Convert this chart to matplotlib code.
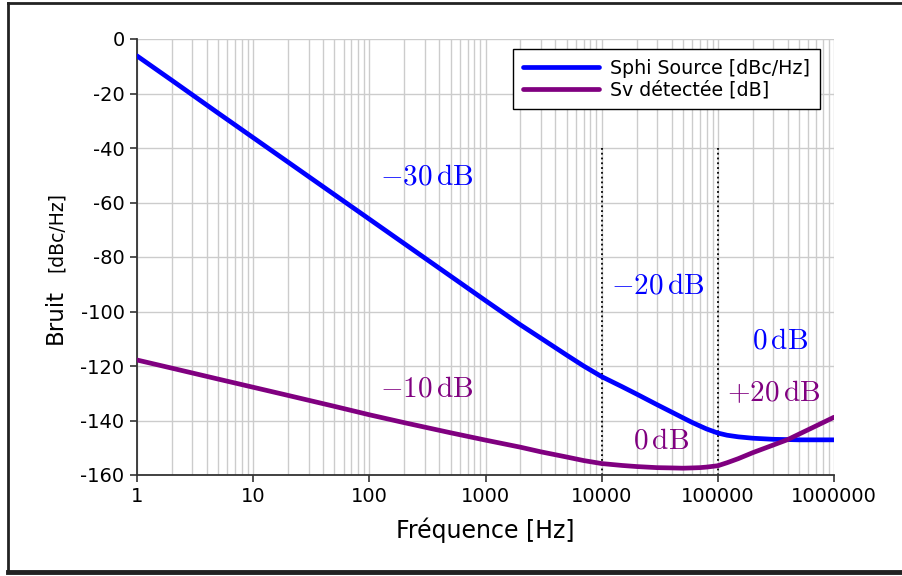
import numpy as np
import matplotlib
matplotlib.use("Agg")
import matplotlib.pyplot as plt
from matplotlib.lines import Line2D
from matplotlib.ticker import FixedLocator, NullFormatter

plt.rcParams["mathtext.fontset"] = "cm"

# values
freq = [1, 2, 5, 10, 20, 50, 100, 200, 500, 1e3, 2e3, 3e3, 5e3, 7e3, 1e4,
        1.5e4, 2e4, 3e4, 4e4, 5e4, 6e4, 7e4, 8e4, 1e5, 1.2e5, 1.5e5, 2e5,
        3e5, 4e5, 5e5, 7e5, 1e6]
sphi_source = [-6.2, -15.2, -27.2, -36.2, -45.2, -57.1, -66.1, -75.1, -87.0,
               -96.0, -104.9, -109.8, -116.0, -120.0, -123.9,
               -127.6, -130.3, -134.2, -136.9, -139.0, -140.7, -142.0, -143.1,
               -144.6, -145.4, -146.0, -146.5,
               -146.9, -147.0, -147.1, -147.1, -147.1]
sv_detectee = [-117.8, -120.8, -124.8, -127.8, -130.8, -134.8, -137.9, -140.8,
               -144.5, -147.2, -149.8, -151.5, -153.4, -154.7, -155.8,
               -156.5, -156.9, -157.3, -157.4, -157.5, -157.4, -157.3, -157.1,
               -156.6, -155.5, -154.0, -151.8,
               -149.0, -147.0, -145.0, -142.0, -138.8]

decades = [1, 10, 100, 1000, 10000, 100000, 1000000]
decade_labels = ["1", "10", "100", "1000", "10000", "100000", "1000000"]
y_ticks = [0, -20, -40, -60, -80, -100, -120, -140, -160]
corners = [1e4, 1e5]

# slope annotations: (text, x, y, colour)
notes = [
    (r"$-30\,\mathrm{dB}$", 313, -50.6, "blue"),
    (r"$-20\,\mathrm{dB}$", 30500, -90.6, "blue"),
    (r"$0\,\mathrm{dB}$", 343000, -110.5, "blue"),
    (r"$-10\,\mathrm{dB}$", 313, -128.4, "purple"),
    (r"$0\,\mathrm{dB}$", 32400, -147.5, "purple"),
    (r"$+20\,\mathrm{dB}$", 304000, -129.9, "purple"),
]

W, H = 902, 576
fig = plt.figure(figsize=(W / 100, H / 100), dpi=100)
ax = fig.add_axes([137 / W, 1 - 475 / H, (834 - 137) / W, (475 - 39) / H])

ax.plot(freq, sphi_source, color="blue", lw=3.4, label="Sphi Source [dBc/Hz]",
        solid_capstyle="round", solid_joinstyle="round", zorder=3)
ax.plot(freq, sv_detectee, color="purple", lw=3.4, label="Sv détectée [dB]",
        solid_capstyle="round", solid_joinstyle="round", zorder=3)

for c in corners:
    ax.plot([c, c], [-40, -160], color="black", lw=1.3, ls=":", zorder=2)

for txt, x, y, col in notes:
    ax.text(x, y, txt, color=col, fontsize=21, ha="center", va="center")

ax.set_xscale("log")
ax.set_xlim(1, 1e6)
ax.set_ylim(-160, 0)
ax.xaxis.set_major_locator(FixedLocator(decades))
ax.set_xticklabels(decade_labels)
ax.xaxis.set_minor_locator(FixedLocator(
    [m * d for d in decades[:-1] for m in range(2, 10)]))
ax.xaxis.set_minor_formatter(NullFormatter())
ax.set_yticks(y_ticks)
ax.set_yticklabels([str(v) for v in y_ticks])

ax.grid(True, which="major", color="#cccccc", lw=1, zorder=0)
ax.grid(True, which="minor", axis="x", color="#cccccc", lw=1, zorder=0)
ax.set_axisbelow(True)

for s in ["top", "right"]:
    ax.spines[s].set_visible(False)
for s in ["left", "bottom"]:
    ax.spines[s].set_color("#333333")
    ax.spines[s].set_linewidth(1.3)

ax.tick_params(axis="both", which="major", direction="out", length=5,
               width=1.2, color="#333333", labelsize=14, pad=4)
ax.tick_params(axis="x", which="minor", length=0)

ax.set_xlabel("Fréquence [Hz]", fontsize=17, labelpad=8)
fig.text(55 / W, 1 - 316 / H, "Bruit", rotation=90, fontsize=16.5,
         ha="center", va="center")
fig.text(56 / W, 1 - 232 / H, "[dBc/Hz]", rotation=90, fontsize=13.5,
         ha="center", va="center")

leg = ax.legend(loc="upper right", bbox_to_anchor=((820 - 137) / 697, (475 - 49) / 436),
                borderaxespad=0, fontsize=13.7, handlelength=4.0,
                handletextpad=0.6, fancybox=False, framealpha=1,
                edgecolor="black", borderpad=0.5, labelspacing=0.15)
leg.get_frame().set_linewidth(1.0)

# figure frame
fig.add_artist(Line2D([8 / W, 1], [1 - 3 / H, 1 - 3 / H], color="#222222", lw=2))
fig.add_artist(Line2D([8 / W, 8 / W], [1 - 3 / H, 1 - 572 / H], color="#222222", lw=2))
fig.add_artist(Line2D([8 / W, 1], [1 - 572 / H, 1 - 572 / H], color="#222222", lw=3.5))

fig.savefig("out.png", dpi=100)
